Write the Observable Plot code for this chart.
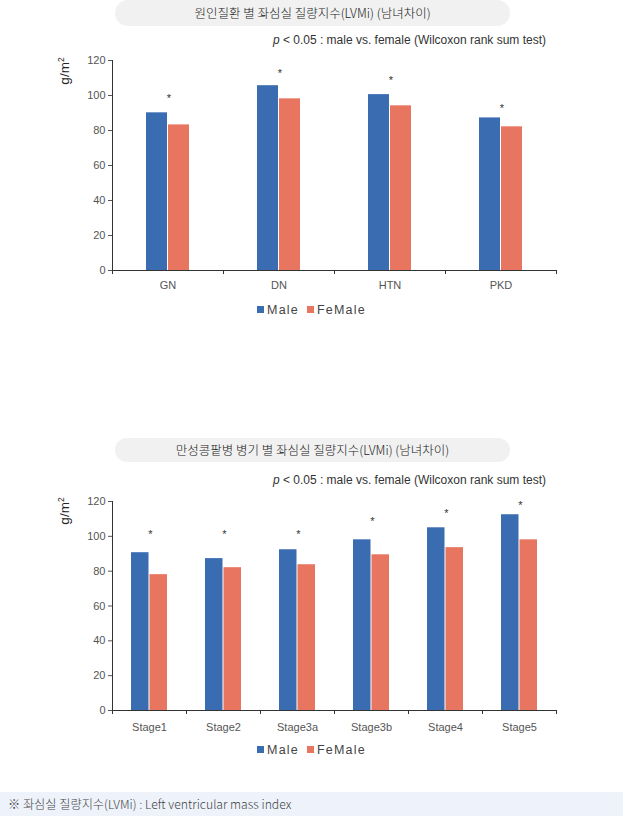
<!DOCTYPE html>
<html>
<head>
<meta charset="utf-8">
<script src="https://cdn.jsdelivr.net/npm/d3@7"></script>
<script src="https://cdn.jsdelivr.net/npm/@observablehq/plot@0.6"></script>
<style>
  html, body { margin: 0; padding: 0; background: #fff; }
  #page { position: relative; width: 623px; height: 816px; overflow: hidden; font-family: "Liberation Sans", Arial, sans-serif; }
  .pill { position: absolute; left: 115px; width: 395px; border-radius: 13px; background: #f1f1f1; text-align: center; font-family: "Noto Sans CJK KR", sans-serif; font-size: 12.5px; font-weight: 300; color: #222; }
  .sub { position: absolute; right: 77px; font-size: 12px; color: #333; white-space: nowrap; }
  .ylab { position: absolute; font-size: 13.5px; color: #222; transform: translate(-50%, -50%) rotate(-90deg); white-space: nowrap; }
  .ylab sup { font-size: 8.5px; }
  .legend { position: absolute; left: 0; width: 623px; text-align: center; font-size: 12.5px; color: #444; letter-spacing: 1.2px; }
  .legend .sw { display: inline-block; width: 7px; height: 7px; margin-right: 3px; vertical-align: 1px; }
  .legend .item { margin: 0 4px; }
  .chart { position: absolute; left: 0; }
  #foot { position: absolute; left: 0; top: 792px; width: 623px; height: 24px; background: #eef3fb; font-family: "Noto Sans CJK KR", sans-serif; font-size: 12.2px; font-weight: 300; color: #444; line-height: 25px; padding-left: 8px; box-sizing: border-box; white-space: nowrap; }
</style>
</head>
<body>
<div id="page"></div>
<script>
// ---- data ----
const diseases = ["GN", "DN", "HTN", "PKD"];
const diseaseMale = [90.1, 105.6, 100.5, 87.2];
const diseaseFemale = [83.2, 98.1, 94.1, 82.1];
const diseaseStar = [98.5, 112.5, 108.5, 92.5];

const stages = ["Stage1", "Stage2", "Stage3a", "Stage3b", "Stage4", "Stage5"];
const stageMale = [90.6, 87.2, 92.3, 98.0, 104.9, 112.4];
const stageFemale = [78.0, 82.0, 83.7, 89.4, 93.5, 98.0];
const stageStar = [100.8, 100.8, 100.8, 108.8, 113.3, 118];

const yTicks = [0, 20, 40, 60, 80, 100, 120];
const seriesNames = ["Male", "FeMale"];
const titles = ["원인질환 별 좌심실 질량지수(LVMi) (남녀차이)", "만성콩팥병 병기 별 좌심실 질량지수(LVMi) (남녀차이)"];
const subtitleText = " < 0.05 : male vs. female (Wilcoxon rank sum test)";
const footText = "※ 좌심실 질량지수(LVMi) : Left ventricular mass index";

const MALE = "#3a6cb2";
const FEMALE = "#e8755f";

const page = document.getElementById("page");

function addDiv(cls, style, html) {
  const d = document.createElement("div");
  d.className = cls;
  Object.assign(d.style, style);
  d.innerHTML = html;
  page.appendChild(d);
  return d;
}

function makeChart(cats, male, female, star, o) {
  const W = 623, ml = 112, mr = 67;
  const step = (W - ml - mr) / cats.length;
  const bw = o.barW;
  const rows = cats.map((c, i) => ({cat: c, male: male[i], female: female[i], star: star[i]}));
  const plot = Plot.plot({
    width: W,
    height: 250,
    marginTop: o.mt,
    marginBottom: 30,
    marginLeft: ml,
    marginRight: mr,
    style: {fontFamily: "Liberation Sans, Arial, sans-serif", fontSize: "11px", color: "#555", background: "transparent", overflow: "visible"},
    x: {domain: cats, padding: 0, label: null},
    y: {domain: [0, 120], label: null},
    marks: [
      Plot.barY(rows, {x: "cat", y: "male", fill: MALE, insetLeft: step / 2 - bw - 0.5, insetRight: step / 2 + 0.5}),
      Plot.barY(rows, {x: "cat", y: "female", fill: FEMALE, insetLeft: step / 2 + 0.5, insetRight: step / 2 - bw - 0.5}),
      Plot.text(rows, {x: "cat", y: "star", text: () => "*", fontSize: 11, fill: "#333", dx: 1}),
      Plot.axisY({ticks: yTicks, tickSize: 4, tickPadding: 3, label: null, color: "#555"}),
      Plot.axisX({tickSize: 0, tickPadding: o.xpad, label: null, color: "#555"}),
      Plot.ruleY([0], {stroke: "#333"}),
      Plot.frame({anchor: "left", stroke: "#333"}),
      Plot.ruleX(rows, {x: "cat", y1: 0, y2: -2.3, dx: -step / 2, stroke: "#333"}),
      Plot.ruleX(rows.slice(-1), {x: "cat", y1: 0, y2: -2.3, dx: step / 2, stroke: "#333"})
    ]
  });
  const wrap = document.createElement("div");
  wrap.className = "chart";
  wrap.style.top = o.top + "px";
  wrap.appendChild(plot);
  page.appendChild(wrap);
}

function legendHTML() {
  return `<span class="item"><span class="sw" style="background:${MALE}"></span>${seriesNames[0]}</span>` +
         `<span class="item"><span class="sw" style="background:${FEMALE}"></span>${seriesNames[1]}</span>`;
}

// chart 1
addDiv("pill", {top: "0px", height: "26px", lineHeight: "26px"}, titles[0]);
addDiv("sub", {top: "33px"}, `<i>p</i>${subtitleText}`);
addDiv("ylab", {left: "64px", top: "71px"}, "g/m<sup>2</sup>");
makeChart(diseases, diseaseMale, diseaseFemale, diseaseStar, {barW: 21, mt: 10, top: 50, xpad: 11});
addDiv("legend", {top: "303px"}, legendHTML());

// chart 2
addDiv("pill", {top: "438px", height: "24px", lineHeight: "24px"}, titles[1]);
addDiv("sub", {top: "473px"}, `<i>p</i>${subtitleText}`);
addDiv("ylab", {left: "64px", top: "511px"}, "g/m<sup>2</sup>");
makeChart(stages, stageMale, stageFemale, stageStar, {barW: 17.5, mt: 11, top: 490, xpad: 12.5});
addDiv("legend", {top: "743px"}, legendHTML());

addDiv("", {}, "").id = "foot";
document.getElementById("foot").textContent = footText;
</script>
</body>
</html>
